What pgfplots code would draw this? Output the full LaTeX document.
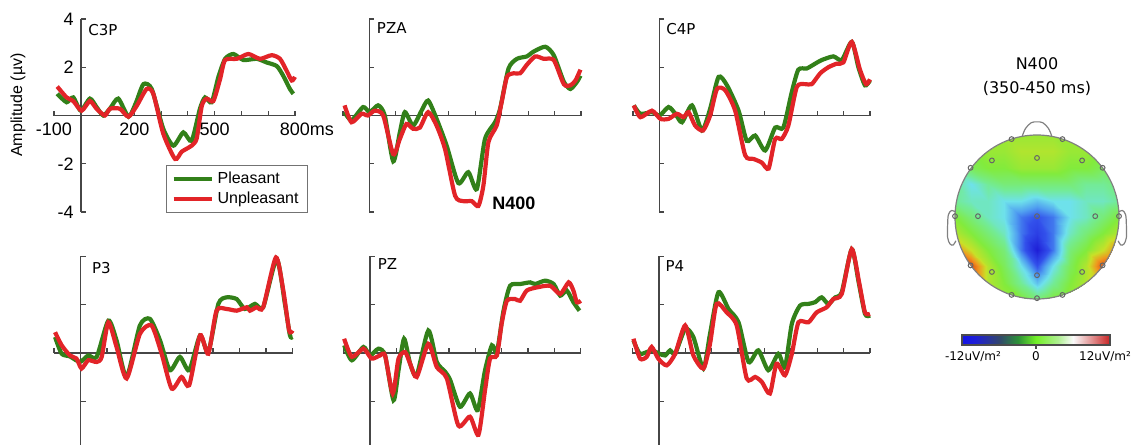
\documentclass[border=0pt]{standalone}
\usepackage{pgfplots}
\pgfplotsset{compat=1.18}
\usepackage{fontspec}
\setmainfont{Liberation Sans}
\newfontfamily\dejavu{DejaVu Sans}
\definecolor{pgreen}{RGB}{50,128,25}
\definecolor{ured}{RGB}{226,36,40}
\definecolor{axgray}{RGB}{70,70,70}
\pgfplotsset{
 erp/.style={
   scale only axis, width=119pt, height=96.5pt,
   xmin=-100,xmax=800,ymin=-4,ymax=4,
   axis x line=middle, axis y line=middle,
   axis line style={-, axgray, line width=0.8pt},
   xtick={-100,0,...,800}, ytick={-4,-2,0,2,4},
   xticklabel=\empty, yticklabel=\empty,
   tick style={axgray, line width=0.6pt},
   tick align=inside, major tick length=2.5pt,
   clip=false, anchor=south west,
 },
 erpb/.style={erp, ymin=-3.8, height=94.4pt},
 pl/.style={pgreen, line width=2.1pt, smooth, tension=0.4},
 un/.style={ured, line width=2.1pt, smooth, tension=0.4},
}
\tikzset{lab/.style={anchor=north west, inner sep=0pt, font=\dejavu\fontsize{7.5}{8}\selectfont}}
\begin{document}
\begin{tikzpicture}
\useasboundingbox (0,0) rectangle (566pt,-222.5pt);
% ---------- C3P
\begin{axis}[erp, at={(27pt,-106pt)}, width=120.5pt,
  xticklabels={\mbox{-100},,,\mbox{200},,,\mbox{500},,,\mbox{800\rlap{ms}}},
  yticklabels={\mbox{-4},\mbox{-2},,\mbox{2},\mbox{4}},
  ticklabel style={font=\fontsize{9}{10}\selectfont},
  legend style={at={(axis cs:318,-2.05)}, anchor=north west, draw=black!55, line width=0.5pt,
     font=\fontsize{8}{9}\selectfont, inner xsep=2.5pt, inner ysep=1pt, row sep=-1pt, cells={anchor=west}},
  legend image code/.code={\draw[#1] (0pt,0pt) -- (19pt,0pt);},
]
\addplot[pl] coordinates {(-88,0.9)(-53,0.55)(-28,0.75)(0,0.2)(34,0.7)(59,0.35)(84,0)(110,0.3)(140,0.7)(178,-0.05)(205,0.5)(234,1.3)(265,1.1)(308,-0.55)(346,-1.25)(383,-0.7)(414,-1.05)(445,0.28)(464,0.75)(489,0.55)(514,1.6)(539,2.35)(570,2.55)(607,2.3)(657,2.35)(694,2.2)(732,2.05)(756,1.65)(781,1.1)(794,0.9)};
\addlegendentry{Pleasant}
\addplot[un] coordinates {(-88,1.2)(-53,0.75)(-28,0.6)(3,0.2)(34,0.6)(59,0.28)(90,0)(109,0.28)(146,0.28)(178,-0.05)(209,0.4)(246,1.1)(271,0.9)(308,-0.75)(352,-1.8)(377,-1.5)(414,-1.25)(433,-0.95)(452,0.4)(470,0.7)(495,0.6)(520,1.5)(539,2.3)(583,2.35)(626,2.55)(669,2.35)(713,2.5)(744,2.35)(769,1.85)(788,1.45)(800,1.6)};
\addlegendentry{Unpleasant}
\node[lab] at (axis cs:27,3.8) {C3P};
\end{axis}
% ---------- PZA
\begin{axis}[erp, at={(171.5pt,-106pt)}]
\addplot[pl] coordinates {(-94,0.14)(-68,-0.2)(-24,0.35)(1,0.14)(33,0.42)(58,0)(90,-1.9)(115,-0.7)(134,0.14)(165,-0.42)(197,0.2)(222,0.62)(254,-0.14)(292,-1.25)(336,-2.8)(374,-2.35)(406,-3.05)(437,-0.97)(475,-0.28)(494,0.28)(526,1.95)(558,2.35)(595,2.45)(621,2.65)(665,2.85)(697,2.5)(735,1.4)(760,1.1)(785,1.4)(798,1.65)};
\addplot[un] coordinates {(-94,0.42)(-68,-0.28)(-30,0.07)(-6,0)(20,0.2)(52,0)(90,-1.6)(115,-0.97)(140,-0.35)(165,-0.55)(191,-0.5)(222,0.14)(254,-0.42)(286,-1.4)(324,-3.33)(355,-3.55)(387,-3.55)(412,-3.75)(431,-2.9)(450,-1.1)(481,-0.42)(500,0.55)(520,1.6)(545,1.75)(570,1.75)(595,2.1)(627,2.45)(659,2.35)(697,2.3)(735,1.3)(760,1.25)(779,1.45)(798,1.9)};
\node[lab] at (axis cs:27,3.85) {PZA};
\node[anchor=west, inner sep=0pt, font=\bfseries\fontsize{9}{10}\selectfont] at (axis cs:463,-3.64) {N400};
\end{axis}
% ---------- C4P
\begin{axis}[erp, at={(316.5pt,-106pt)}, width=118.5pt]
\addplot[pl] coordinates {(-97,0.42)(-72,0.07)(-28,0.14)(1,0)(35,0.35)(61,0.07)(86,-0.28)(124,0.42)(162,-0.62)(193,0.28)(225,1.6)(257,1.25)(301,0.2)(332,-1.05)(364,-0.83)(402,-1.45)(440,-0.5)(471,-0.5)(503,0.97)(528,1.9)(560,1.95)(592,2.15)(617,2.3)(661,2.45)(693,2.3)(731,3.05)(756,2.0)(781,1.25)(800,1.45)};
\addplot[un] coordinates {(-97,0.42)(-72,-0.07)(-28,0.2)(4,-0.14)(35,-0.14)(67,0.07)(92,-0.07)(111,0.14)(136,-0.42)(166,-0.62)(193,0)(219,1.1)(250,1.05)(288,0.2)(326,-1.65)(358,-1.8)(389,-1.95)(415,-2.2)(440,-0.97)(465,-0.97)(490,-0.42)(522,1.18)(554,1.3)(579,1.3)(611,1.75)(642,2.0)(674,2.15)(699,2.2)(731,3.05)(762,1.9)(785,1.3)(800,1.5)};
\node[lab] at (axis cs:25,3.85) {C4P};
\end{axis}
% ---------- P3
\begin{axis}[erpb, at={(27pt,-222.5pt)}, width=119.3pt]
\addplot[pl] coordinates {(-96,0.66)(-71,-0.03)(-40,-0.14)(-2,-0.37)(29,-0.1)(61,-0.16)(105,1.34)(136,0.52)(174,-0.99)(224,1.14)(262,1.41)(300,0.52)(337,-0.71)(375,-0.16)(410,-0.71)(451,0.73)(482,0.04)(520,2.03)(551,2.3)(589,2.23)(620,1.82)(658,2.03)(689,1.89)(740,3.88)(771,2.03)(790,0.73)(800,0.66)};
\addplot[un] coordinates {(-96,0.86)(-71,0.32)(-40,-0.1)(-15,-0.23)(4,-0.64)(29,-0.3)(61,-0.37)(80,-0.16)(105,1.27)(136,0.25)(174,-1.05)(224,0.79)(268,1.14)(306,-0.03)(344,-1.47)(381,-0.99)(410,-1.33)(451,0.73)(482,-0.03)(513,1.75)(551,1.82)(589,1.75)(627,1.89)(639,1.75)(664,1.89)(689,1.89)(737,3.95)(765,2.58)(787,0.93)(800,0.93)};
\node[lab] at (axis cs:42,3.75) {P3};
\end{axis}
% ---------- PZ
\begin{axis}[erpb, at={(171.7pt,-222.5pt)}, width=118.7pt]
\addplot[pl] coordinates {(-97,0.32)(-68,-0.3)(-24,0.25)(1,-0.1)(33,0.18)(58,-0.1)(90,-1.95)(109,-0.71)(130,0.59)(153,-0.44)(178,-0.92)(222,0.93)(254,-0.37)(286,-0.78)(305,-1.12)(342,-2.22)(380,-1.67)(409,-2.36)(437,-0.71)(463,0.32)(482,0.04)(507,1.75)(532,2.78)(570,2.85)(608,2.92)(627,2.85)(665,2.99)(697,2.85)(722,2.37)(747,2.58)(772,2.1)(795,1.75)};
\addplot[un] coordinates {(-97,0.59)(-68,-0.16)(-24,0.18)(7,-0.23)(39,-0.1)(58,-0.1)(87,-1.67)(109,-0.23)(134,0.04)(153,-0.44)(178,-0.99)(222,0.38)(254,-0.58)(292,-1.05)(336,-3.0)(380,-2.63)(412,-3.38)(437,-1.53)(456,-0.23)(482,-0.1)(500,1.21)(520,2.16)(551,2.23)(570,2.16)(595,2.58)(633,2.71)(684,2.78)(722,2.44)(754,2.92)(772,2.58)(785,2.1)(800,2.16)};
\node[lab] at (axis cs:29,3.9) {PZ};
\end{axis}
% ---------- P4
\begin{axis}[erpb, at={(316.2pt,-222.5pt)}, width=118.8pt]
\addplot[pl] coordinates {(-96,0.52)(-71,-0.03)(-27,0.11)(2,-0.03)(24,-0.1)(43,0.11)(62,-0.03)(100,1.0)(131,0.66)(169,-0.64)(194,0.79)(226,2.51)(264,1.82)(302,1.27)(340,-0.37)(377,0.11)(415,-0.71)(453,-0.03)(478,-0.58)(504,1.21)(535,1.96)(567,2.03)(592,2.1)(617,2.3)(642,2.03)(668,2.3)(693,2.51)(731,4.29)(756,2.99)(781,1.62)(800,1.55)};
\addplot[un] coordinates {(-96,0.59)(-71,-0.23)(-46,-0.16)(-27,0.25)(-2,-0.23)(30,-0.51)(62,-0.03)(100,1.14)(131,-0.1)(169,-0.64)(194,0.38)(219,2.03)(257,1.68)(295,1.14)(333,-1.05)(365,-0.99)(390,-1.19)(421,-1.67)(446,-0.44)(478,-0.92)(504,-0.03)(529,1.27)(567,1.27)(598,1.68)(636,1.89)(661,2.23)(693,2.44)(731,4.29)(760,2.85)(781,1.68)(800,1.62)};
\node[lab] at (axis cs:24,3.85) {P4};
\end{axis}
% y label
\node[rotate=90, font=\fontsize{8}{9}\selectfont] at (9pt,-52.5pt) {Amplitude (µv)};
% ---------- topomap
\begin{scope}
\clip (518.5pt,-108.5pt) circle[radius=41pt];
\begin{axis}[at={(518.5pt,-108.5pt)}, anchor=center, scale only axis, width=98.4pt, height=98.4pt,
  view={0}{90}, hide axis, xmin=-1.2, xmax=1.2, ymin=-1.2, ymax=1.2, zmin=-1, zmax=1,
  colormap={topo}{rgb255(0cm)=(30,30,215) rgb255(3cm)=(50,80,235) rgb255(5cm)=(80,160,240) rgb255(7cm)=(110,225,235) rgb255(9cm)=(115,235,150) rgb255(12cm)=(130,235,60) rgb255(15cm)=(200,225,40) rgb255(18cm)=(240,150,30) rgb255(21cm)=(225,80,20) rgb255(24cm)=(180,30,20)},
  point meta min=-12, point meta max=12]
\addplot3[surf, shader=interp, mesh/cols=11, point meta=explicit] table[x=x, y=y, z=z, meta=v] {
x y z v
-1.0 1.0 0 0
-0.8 1.0 0 0
-0.6 1.0 0 1
-0.4 1.0 0 1
-0.2 1.0 0 1
0.0 1.0 0 1
0.2 1.0 0 1
0.4 1.0 0 1
0.6 1.0 0 1
0.8 1.0 0 0
1.0 1.0 0 0
-1.0 0.8 0 -1
-0.8 0.8 0 0
-0.6 0.8 0 1
-0.4 0.8 0 1
-0.2 0.8 0 2
0.0 0.8 0 2
0.2 0.8 0 2
0.4 0.8 0 1
0.6 0.8 0 1
0.8 0.8 0 0
1.0 0.8 0 -1
-1.0 0.6 0 -2
-0.8 0.6 0 -1
-0.6 0.6 0 0
-0.4 0.6 0 0
-0.2 0.6 0 1
0.0 0.6 0 1
0.2 0.6 0 1
0.4 0.6 0 0
0.6 0.6 0 0
0.8 0.6 0 -1
1.0 0.6 0 -2
-1.0 0.4 0 -3
-0.8 0.4 0 -5
-0.6 0.4 0 -3
-0.4 0.4 0 -2
-0.2 0.4 0 -2
0.0 0.4 0 -2
0.2 0.4 0 -2
0.4 0.4 0 -2
0.6 0.4 0 -3
0.8 0.4 0 -3
1.0 0.4 0 -2
-1.0 0.2 0 -3
-0.8 0.2 0 -4
-0.6 0.2 0 -4
-0.4 0.2 0 -5
-0.2 0.2 0 -5
0.0 0.2 0 -6
0.2 0.2 0 -5
0.4 0.2 0 -5
0.6 0.2 0 -4
0.8 0.2 0 -4
1.0 0.2 0 -3
-1.0 0.0 0 0
-0.8 0.0 0 -2
-0.6 0.0 0 -4
-0.4 0.0 0 -5
-0.2 0.0 0 -8
0.0 0.0 0 -9
0.2 0.0 0 -8
0.4 0.0 0 -5
0.6 0.0 0 -4
0.8 0.0 0 -2
1.0 0.0 0 0
-1.0 -0.2 0 2
-0.8 -0.2 0 0
-0.6 -0.2 0 -2
-0.4 -0.2 0 -4
-0.2 -0.2 0 -8
0.0 -0.2 0 -10
0.2 -0.2 0 -8
0.4 -0.2 0 -4
0.6 -0.2 0 -2
0.8 -0.2 0 0
1.0 -0.2 0 2
-1.0 -0.4 0 7
-0.8 -0.4 0 3
-0.6 -0.4 0 0
-0.4 -0.4 0 -2
-0.2 -0.4 0 -8
0.0 -0.4 0 -12
0.2 -0.4 0 -8
0.4 -0.4 0 -2
0.6 -0.4 0 0
0.8 -0.4 0 3
1.0 -0.4 0 7
-1.0 -0.6 0 11
-0.8 -0.6 0 9
-0.6 -0.6 0 2
-0.4 -0.6 0 -1
-0.2 -0.6 0 -5
0.0 -0.6 0 -9
0.2 -0.6 0 -5
0.4 -0.6 0 -1
0.6 -0.6 0 2
0.8 -0.6 0 9
1.0 -0.6 0 11
-1.0 -0.8 0 8
-0.8 -0.8 0 6
-0.6 -0.8 0 2
-0.4 -0.8 0 0
-0.2 -0.8 0 -3
0.0 -0.8 0 -6
0.2 -0.8 0 -3
0.4 -0.8 0 0
0.6 -0.8 0 2
0.8 -0.8 0 6
1.0 -0.8 0 8
-1.0 -1.0 0 4
-0.8 -1.0 0 3
-0.6 -1.0 0 2
-0.4 -1.0 0 1
-0.2 -1.0 0 0
0.0 -1.0 0 -2
0.2 -1.0 0 0
0.4 -1.0 0 1
0.6 -1.0 0 2
0.8 -1.0 0 3
1.0 -1.0 0 4
};
\end{axis}
\end{scope}
\draw[black!50, line width=0.6pt] (518.5pt,-108.5pt) circle[radius=41pt];
\begin{axis}[at={(518.5pt,-108.5pt)}, anchor=center, scale only axis, width=98.4pt, height=98.4pt,
  hide axis, xmin=-1.2, xmax=1.2, ymin=-1.2, ymax=1.2, clip=false]
\addplot[black!50, line width=0.6pt, smooth, tension=0.6] coordinates {(-0.18,0.985)(-0.14,1.08)(-0.07,1.15)(0,1.16)(0.07,1.15)(0.14,1.08)(0.18,0.985)};
\addplot[black!50, line width=0.6pt, smooth, tension=0.6] coordinates {(-0.995,0.06)(-1.04,0.08)(-1.08,0.03)(-1.09,-0.1)(-1.09,-0.25)(-1.06,-0.33)(-1.02,-0.34)(-0.99,-0.29)};
\addplot[black!50, line width=0.6pt, smooth, tension=0.6] coordinates {(0.995,0.06)(1.04,0.08)(1.08,0.03)(1.09,-0.1)(1.09,-0.25)(1.06,-0.33)(1.02,-0.34)(0.99,-0.29)};
\addplot[only marks, mark=o, mark size=1.2pt, black!60, mark options={line width=0.5pt}] coordinates {
(-0.31,0.95)(0.31,0.95)(-0.55,0.69)(0,0.72)(0.55,0.69)(-0.81,0.6)(0.8,0.6)
(-1.0,0.01)(-0.72,0.01)(0,0.01)(0.71,0.01)(1.0,0.01)
(-0.81,-0.59)(-0.55,-0.67)(0,-0.71)(0.55,-0.67)(0.8,-0.59)
(-0.31,-0.95)(0,-0.99)(0.31,-0.95)};
\end{axis}
\node[font=\dejavu\fontsize{8}{9}\selectfont] at (518.5pt,-31.75pt) {N400};
\node[font=\dejavu\fontsize{8}{9}\selectfont] at (518.5pt,-44.25pt) {(350-450 ms)};
% ---------- colour bar
\begin{axis}[at={(481pt,-172.5pt)}, anchor=south west, scale only axis, width=74pt, height=5pt,
  view={0}{90}, hide axis, xmin=-12, xmax=12, ymin=0, ymax=1, zmin=-1, zmax=1,
  colormap={cbar}{rgb255(0cm)=(20,20,230) rgb255(2cm)=(30,30,215) rgb255(6cm)=(50,70,110) rgb255(9cm)=(45,145,55) rgb255(12cm)=(115,240,40) rgb255(15.6cm)=(175,240,145) rgb255(18cm)=(250,250,250) rgb255(20.4cm)=(230,165,165) rgb255(24cm)=(200,35,35)},
  point meta min=-12, point meta max=12]
\addplot3[surf, shader=interp, mesh/cols=9, point meta=x] table {
-12 0 0
-9 0 0
-6 0 0
-3 0 0
0 0 0
3 0 0
6 0 0
9 0 0
12 0 0
-12 1 0
-9 1 0
-6 1 0
-3 1 0
0 1 0
3 1 0
6 1 0
9 1 0
12 1 0
};
\end{axis}
\draw[black!70, line width=0.6pt] (481pt,-172.5pt) rectangle (555pt,-167.5pt);
\draw[black!70, line width=0.6pt] (518pt,-172.5pt) -- (518pt,-174.5pt);
\node[font=\dejavu\fontsize{6}{7}\selectfont, anchor=north, inner sep=1pt] at (486.5pt,-174.5pt) {-12uV/m²};
\node[font=\dejavu\fontsize{6}{7}\selectfont, anchor=north, inner sep=1pt] at (518pt,-174.5pt) {0};
\node[font=\dejavu\fontsize{6}{7}\selectfont, anchor=north, inner sep=1pt] at (552.5pt,-174.5pt) {12uV/m²};
\end{tikzpicture}
\end{document}
